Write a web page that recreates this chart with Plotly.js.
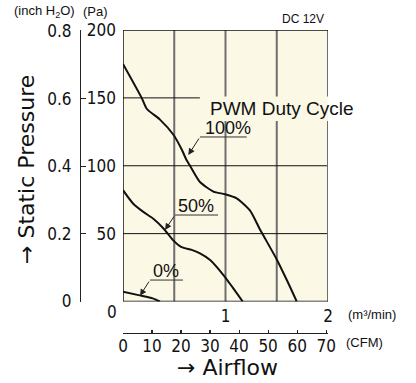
<!DOCTYPE html>
<html><head><meta charset="utf-8">
<script src="https://cdn.plot.ly/plotly-3.0.1.min.js"></script>
<style>html,body{margin:0;padding:0;background:#fff}#chart{width:416px;height:383px}</style>
</head><body><div id="chart"></div>
<script>
// ---- data ----
const flow100 = [0, 0.182, 0.231, 0.361, 0.49, 0.573, 0.621, 0.654, 0.751, 0.882, 0.995, 1.109, 1.24, 1.337, 1.5, 1.597, 1.695];
const pres100 = [175, 150, 142, 134, 123, 112, 104, 100, 88, 81, 79, 76, 67, 53, 31, 16, 0];
const flow50 = [0, 0.1, 0.198, 0.296, 0.393, 0.49, 0.572, 0.67, 0.751, 0.85, 0.98, 1.076, 1.168];
const pres50 = [82, 72, 66, 61, 54, 45, 40, 38, 35.5, 30.6, 19.5, 9.7, 0];
const flow0 = [0, 0.163, 0.29, 0.36];
const pres0 = [7.2, 4.5, 2.3, 0];
const seriesNames = ['100%', '50%', '0%'];
const flowTicks = [1, 2];
const flowTickText = ['1', '2'];
const paTicks = [50, 100, 150, 200];
const inchTicks = [0, 0.2, 0.4, 0.6, 0.8];
const inchTickText = ['0', '0.2', '0.4', '0.6', '0.8'];
const cfmTicks = [0, 10, 20, 30, 40, 50, 60, 70];
const gridFlow = [0.5, 1, 1.5];
const gridPres = [50, 100, 150];
const PA_PER_INCH = 249.089;
const M3_PER_CFM = 0.0283168;

// ---- layout helpers ----
const W = 416, H = 383, L = 80, R = 88, T = 30, B = 50;
const px = X => (X - L) / (W - L - R);
const py = Y => (H - B - Y) / (H - T - B);
const BG = '#fcf8e6';
const narrow = 'Liberation Sans Narrow, DejaVu Sans Condensed, Arial, sans-serif';
const sans = 'Liberation Sans, Arial, sans-serif';
const big = 'DejaVu Sans, sans-serif';

const line = {color: '#111', width: 2, shape: 'spline', smoothing: 0.6};
const traces = [
  {x: flow100, y: pres100, name: seriesNames[0], mode: 'lines', line},
  {x: flow50, y: pres50, name: seriesNames[1], mode: 'lines', line},
  {x: flow0, y: pres0, name: seriesNames[2], mode: 'lines', line},
  // helper traces so that the secondary scales (inch H2O, CFM) are drawn
  {x: [], y: [], xaxis: 'x', yaxis: 'y2', mode: 'lines', hoverinfo: 'skip'},
  {x: [], y: [], xaxis: 'x2', yaxis: 'y', mode: 'lines', hoverinfo: 'skip'},
];

const shapes = [];
gridFlow.forEach(v => shapes.push({type: 'line', xref: 'x', yref: 'y', x0: v, x1: v, y0: 0, y1: 200, line: {color: '#6e6e6e', width: 2}, layer: 'below'}));
gridPres.forEach(v => shapes.push({type: 'line', xref: 'x', yref: 'y', x0: 0, x1: 2, y0: v, y1: v, line: {color: '#111', width: 1}, layer: 'below'}));
// frame
shapes.push({type: 'line', xref: 'x', yref: 'y', x0: 2, x1: 2, y0: 0, y1: 200, line: {color: '#6e6e6e', width: 2}, layer: 'below'});
shapes.push({type: 'line', xref: 'x', yref: 'y', x0: 0, x1: 2, y0: 200, y1: 200, line: {color: '#111', width: 1.5}, layer: 'below'});
shapes.push({type: 'line', xref: 'x', yref: 'y', x0: 0, x1: 2, y0: 0, y1: 0, line: {color: '#111', width: 1.5}, layer: 'below'});
shapes.push({type: 'line', xref: 'x', yref: 'y', x0: 0, x1: 0, y0: 0, y1: 200, line: {color: '#111', width: 1.5}, layer: 'below'});
// label backing box
shapes.push({type: 'rect', xref: 'x', yref: 'y', x0: 0.75, x1: 2.02, y0: 133, y1: 151, fillcolor: BG, line: {width: 0}, layer: 'below'});
// underlines of the duty labels
const ul = [[0.751, 1.207, 121.2], [0.507, 0.927, 63.7], [0.263, 0.585, 15.8]];
ul.forEach(u => shapes.push({type: 'line', xref: 'x', yref: 'y', x0: u[0], x1: u[1], y0: u[2], y1: u[2], line: {color: '#333', width: 1}}));

const ann = [];
// duty labels
const lab = [[1.02, 128, '100%'], [0.717, 70.3, '50%'], [0.415, 22.5, '0%']];
lab.forEach(l => ann.push({xref: 'x', yref: 'y', x: l[0], y: l[1], text: l[2], showarrow: false, font: {family: sans, size: 18, color: '#111'}}));
// arrows (tail at underline start, head on the curve)
const arr = [[0.751, 121.2, 0.637, 107.9], [0.507, 63.7, 0.41, 52.7], [0.263, 15.8, 0.166, 4.3]];
arr.forEach(a => ann.push({xref: 'x', yref: 'y', axref: 'x', ayref: 'y', ax: a[0], ay: a[1], x: a[2], y: a[3], text: '', showarrow: true, arrowhead: 2, arrowsize: 1.3, arrowwidth: 1, arrowcolor: '#222', standoff: 0, startstandoff: 0}));
// texts
const txt = (X, Y, t, size, fam, extra) => Object.assign({xref: 'paper', yref: 'paper', x: px(X), y: py(Y), text: t, showarrow: false, xanchor: 'center', yanchor: 'middle', font: {family: fam, size: size, color: '#111'}}, extra || {});
ann.push(txt(208, 108, 'PWM Duty Cycle', 19, sans, {xanchor: 'left'}));
ann.push(txt(303, 19, 'DC 12V', 12, sans));
ann.push(txt(44, 12, '(inch H<sub>2</sub>O)', 13, sans));
ann.push(txt(95, 12, '(Pa)', 13, sans));
ann.push(txt(372, 314, '(m³/min)', 13, sans));
ann.push(txt(364, 342, '(CFM)', 13, sans));
ann.push(txt(227, 367, '→ Airflow', 22, big));
ann.push(txt(26, 170, '→ Static Pressure', 22, big, {textangle: -90}));
ann.push(txt(112, 311.5, '0', 17, narrow));

const tickFont = {family: narrow, size: 17, color: '#111'};
const layout = {
  width: W, height: H,
  margin: {l: L, r: R, t: T, b: B, pad: 0},
  paper_bgcolor: '#fff', plot_bgcolor: BG,
  showlegend: false,
  xaxis: {domain: [px(123), 1], range: [0, 2], tickvals: flowTicks, ticktext: flowTickText, showgrid: false, zeroline: false, showline: false, ticks: '', tickfont: tickFont, ticklabelstandoff: 2},
  yaxis: {domain: [py(301.5), 1], range: [0, 200], tickvals: paTicks, showgrid: false, zeroline: false, showline: false, ticks: '', tickfont: tickFont, ticklabelstandoff: 6},
  yaxis2: {overlaying: 'y', anchor: 'free', position: 0, side: 'left', range: [0, 200 / PA_PER_INCH], tickvals: inchTicks, ticktext: inchTickText, showline: true, linecolor: '#222', linewidth: 1.2, ticks: 'inside', ticklen: 5, tickcolor: '#222', tickwidth: 1.2, showgrid: false, zeroline: false, tickfont: tickFont, ticklabelstandoff: 5},
  xaxis2: {overlaying: 'x', anchor: 'free', position: 0, side: 'bottom', range: [0, 2 / M3_PER_CFM], tickvals: cfmTicks, showline: true, linecolor: '#222', linewidth: 1.2, ticks: 'inside', ticklen: 3, tickcolor: '#222', tickwidth: 1.2, showgrid: false, zeroline: false, tickfont: tickFont, ticklabelstandoff: -3},
  shapes: shapes,
  annotations: ann
};
Plotly.newPlot('chart', traces, layout, {displayModeBar: false, staticPlot: true});
</script></body></html>
